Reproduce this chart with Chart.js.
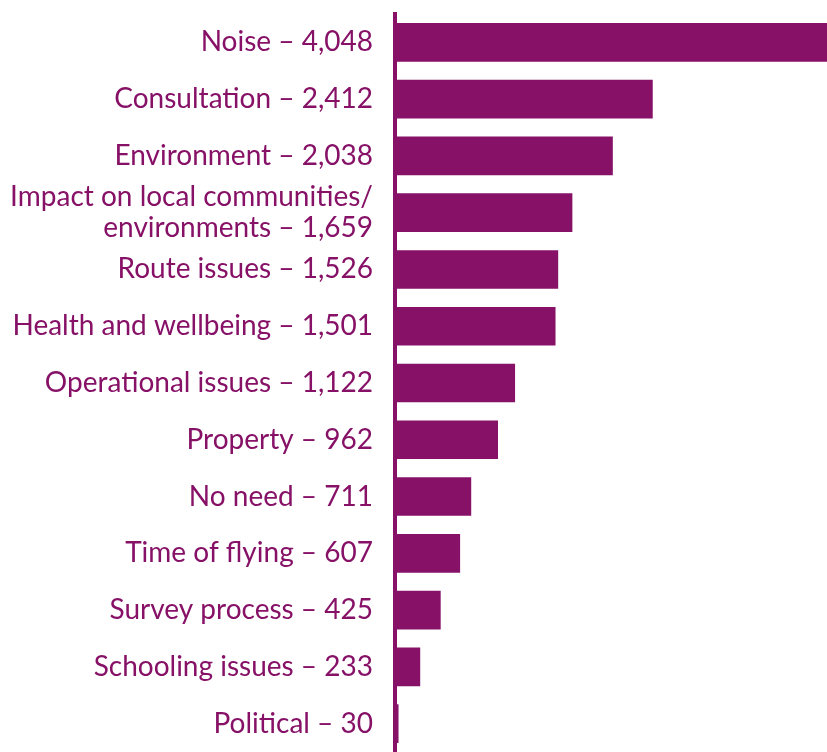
<!DOCTYPE html>
<html>
<head>
<meta charset="utf-8">
<script src="https://cdn.jsdelivr.net/npm/chart.js@4"></script>
<style>
  html, body { margin: 0; padding: 0; background: #fff; }
  #wrap { width: 827px; height: 752px; }
</style>
</head>
<body>
<div id="wrap"><canvas id="topics" width="827" height="752"></canvas></div>
<script>
const topicNames = [
    'Noise', 'Consultation', 'Environment', ['Impact on local communities/', 'environments'],
    'Route issues', 'Health and wellbeing', 'Operational issues', 'Property',
    'No need', 'Time of flying', 'Survey process', 'Schooling issues', 'Political'
];
const topicCounts = [4048, 2412, 2038, 1659, 1526, 1501, 1122, 962, 711, 607, 425, 233, 30];

const purple = '#861167';

// build tick labels like "Noise – 4,048" (last line gets the number)
const tickLabels = topicNames.map((name, i) => {
    const num = topicCounts[i].toLocaleString('en-GB');
    if (Array.isArray(name)) {
        const lines = name.slice();
        lines[lines.length - 1] = lines[lines.length - 1] + ' – ' + num;
        return lines;
    }
    return name + ' – ' + num;
});

const ctx = document.getElementById('topics').getContext('2d');
new Chart(ctx, {
    type: 'bar',
    data: {
        labels: tickLabels,
        datasets: [{
            data: topicCounts,
            backgroundColor: purple,
            borderWidth: 0,
            barThickness: 38
        }]
    },
    options: {
        responsive: false,
        animation: false,
        devicePixelRatio: 1,
        indexAxis: 'y',
        layout: { padding: { top: 14, right: 0, bottom: 0, left: 0 } },
        plugins: {
            legend: { display: false },
            tooltip: { enabled: false }
        },
        scales: {
            x: {
                display: false,
                min: 0,
                max: 4048
            },
            y: {
                grid: { display: false, drawTicks: false },
                border: { display: true, color: purple, width: 4 },
                ticks: {
                    color: purple,
                    padding: 22,
                    autoSkip: false,
                    font: { family: 'Lato', size: 28, lineHeight: 1.1 }
                },
                afterFit: function(scale) {
                    scale.width = 395;  // put the axis line where the reference has it
                    scale.paddingTop = 0;
                    scale.paddingBottom = 0;
                }
            }
        }
    }
});
</script>
</body>
</html>
